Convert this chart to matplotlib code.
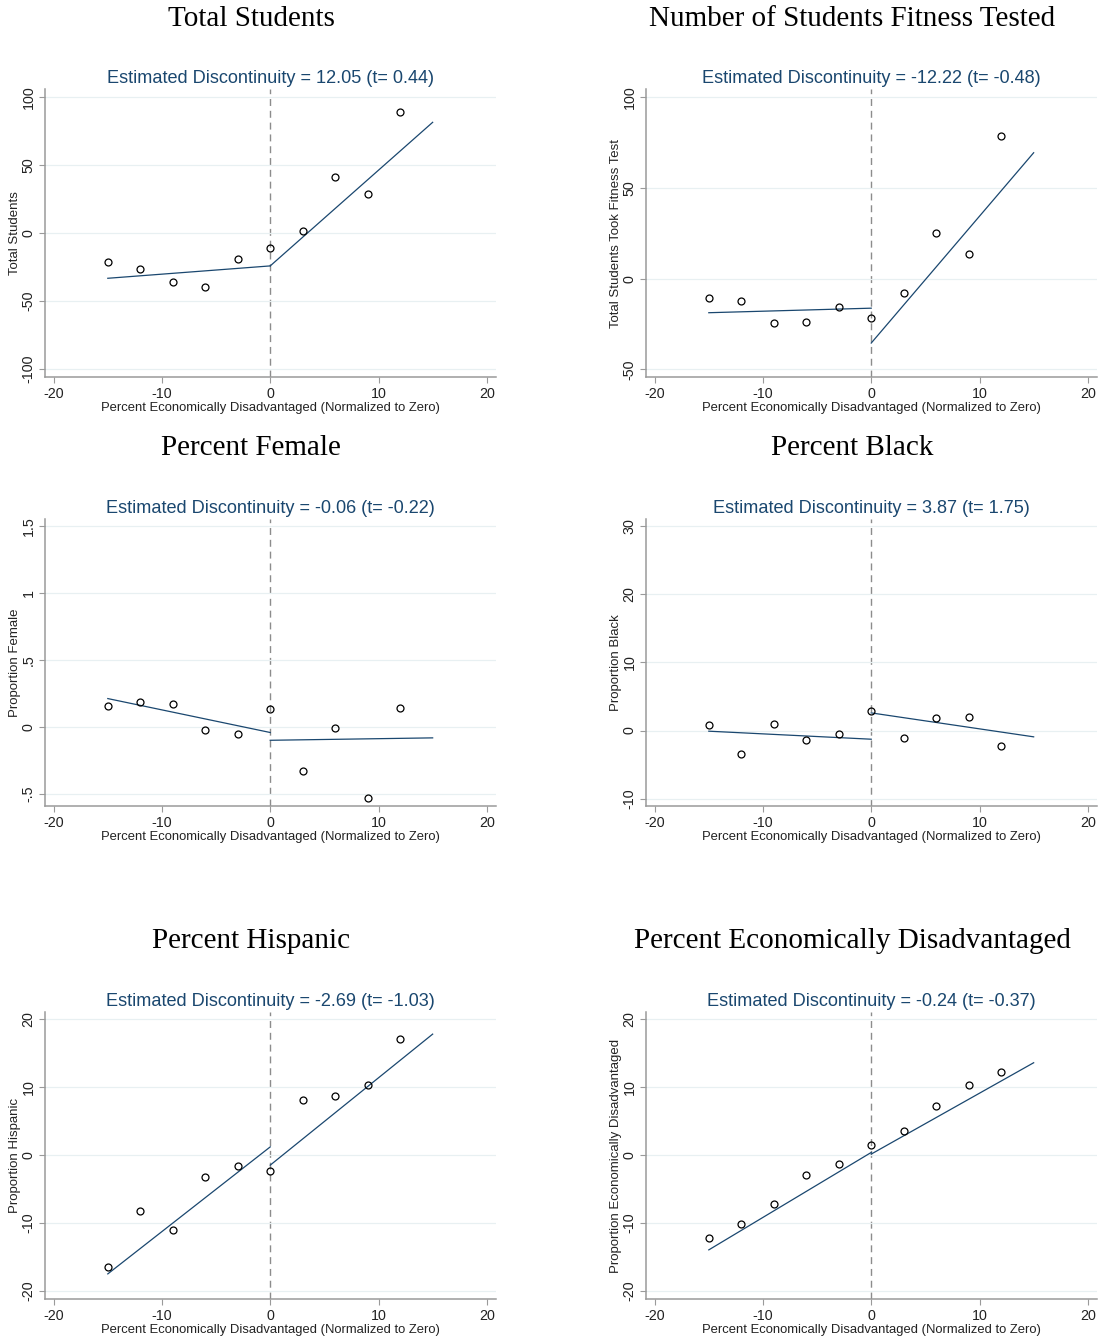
import numpy as np
import matplotlib.pyplot as plt
from matplotlib.ticker import FuncFormatter

plt.rcParams['font.family'] = ['Liberation Sans', 'DejaVu Sans']
plt.rcParams['axes.unicode_minus'] = False

# bin midpoints (percent econ. disadvantaged, centred on the cutoff)
bins = [-15, -12, -9, -6, -3, 0, 3, 6, 9, 12]
fit_lo_x = [-15, 0]
fit_hi_x = [0, 15]

total_students = [-21.1, -26.5, -36.0, -40.0, -19.4, -11.0, 1.2, 41.2, 28.7, 88.7]
total_fit_lo = [-33.3, -24.2]
total_fit_hi = [-24.2, 81.4]

fitness_tested = [-10.5, -12.1, -24.6, -24.1, -15.6, -21.5, -8.1, 25.2, 13.6, 78.3]
fitness_fit_lo = [-18.8, -16.3]
fitness_fit_hi = [-35.5, 69.3]

prop_female = [0.152, 0.184, 0.174, -0.025, -0.050, 0.132, -0.328, -0.007, -0.532, 0.139]
female_fit_lo = [0.211, -0.042]
female_fit_hi = [-0.100, -0.082]

prop_black = [0.88, -3.44, 1.03, -1.42, -0.54, 2.80, -1.03, 1.82, 2.01, -2.21]
black_fit_lo = [-0.10, -1.28]
black_fit_hi = [2.59, -0.93]

prop_hispanic = [-16.47, -8.17, -10.97, -3.26, -1.55, -2.33, 8.12, 8.66, 10.28, 17.06]
hispanic_fit_lo = [-17.50, 1.22]
hispanic_fit_hi = [-1.47, 17.84]

prop_econ = [-12.25, -10.09, -7.19, -2.92, -1.25, 1.45, 3.56, 7.24, 10.28, 12.20]
econ_fit_lo = [-13.96, 0.40]
econ_fit_hi = [0.16, 13.62]

titles = ['Total Students', 'Number of Students Fitness Tested',
          'Percent Female', 'Percent Black',
          'Percent Hispanic', 'Percent Economically Disadvantaged']
ylabels = ['Total Students', 'Total Students Took Fitness Test',
           'Proportion Female', 'Proportion Black',
           'Proportion Hispanic', 'Proportion Economically Disadvantaged']
estimates = ['12.05 (t= 0.44)', '-12.22 (t= -0.48)',
             '-0.06 (t= -0.22)', '3.87 (t= 1.75)',
             '-2.69 (t= -1.03)', '-0.24 (t= -0.37)']
yticks = [[-100, -50, 0, 50, 100], [-50, 0, 50, 100],
          [-0.5, 0, 0.5, 1, 1.5], [-10, 0, 10, 20, 30],
          [-20, -10, 0, 10, 20], [-20, -10, 0, 10, 20]]
ylims = [(-105.9, 105.9), (-54.2, 104.4), (-0.59, 1.55),
         (-11.1, 31.1), (-21.2, 21.1), (-21.2, 21.1)]

series = [total_students, fitness_tested, prop_female, prop_black, prop_hispanic, prop_econ]
fits = [(total_fit_lo, total_fit_hi), (fitness_fit_lo, fitness_fit_hi),
        (female_fit_lo, female_fit_hi), (black_fit_lo, black_fit_hi),
        (hispanic_fit_lo, hispanic_fit_hi), (econ_fit_lo, econ_fit_hi)]

W, H = 1102, 1339
navy = '#1a476f'
axis_grey = '#9a9a9a'
grid_col = '#e8f0f2'

col_left = [45, 646]
col_title_x = [251, 852]
row_top = [89, 519, 1012]
row_bot = [377, 806, 1299]
row_title_y = [19, 448, 941]
ax_w = 451


def stata_num(v, pos=None):
    s = ('%g' % v)
    if s.startswith('0.'):
        s = s[1:]
    elif s.startswith('-0.'):
        s = '-' + s[2:]
    return s


fig = plt.figure(figsize=(W / 100, H / 100), dpi=100)

for i in range(6):
    r, c = divmod(i, 2)
    left = col_left[c]
    top, bot = row_top[r], row_bot[r]
    ax = fig.add_axes([left / W, 1 - bot / H, ax_w / W, (bot - top) / H])

    ax.set_xlim(-20.8, 20.85)
    ax.set_ylim(*ylims[i])
    ax.set_xticks([-20, -10, 0, 10, 20])
    ax.set_yticks(yticks[i])
    ax.yaxis.set_major_formatter(FuncFormatter(stata_num))
    for t in ax.get_yticklabels():
        t.set_rotation(90)
        t.set_va('center')

    ax.grid(axis='y', color=grid_col, lw=0.9, zorder=0)
    for s in ['top', 'right']:
        ax.spines[s].set_visible(False)
    for s in ['left', 'bottom']:
        ax.spines[s].set_color(axis_grey)
        ax.spines[s].set_linewidth(1.1)
    ax.tick_params(direction='out', length=4.3, width=0.8, color=axis_grey,
                   labelsize=10.3, labelcolor='#222222', pad=2.5)
    ax.tick_params(axis='x', pad=3.2)

    ax.axvline(0, color='#8c8c8c', lw=1.0, ls=(0, (5, 3.5)), zorder=1)

    lo, hi = fits[i]
    ax.plot(fit_lo_x, lo, color=navy, lw=0.9, zorder=2)
    ax.plot(fit_hi_x, hi, color=navy, lw=0.9, zorder=2)
    ax.plot(bins, series[i], 'o', ms=5, mfc='none', mec='black', mew=0.9, zorder=3)

    ax.set_xlabel('Percent Economically Disadvantaged (Normalized to Zero)',
                  fontsize=9.4, color='#222222', labelpad=0.5)
    ax.set_ylabel(ylabels[i], fontsize=9.5, color='#222222')
    ax.yaxis.set_label_coords((21 - 45) / ax_w, 0.5)

    ax.set_title('Estimated Discontinuity = ' + estimates[i],
                 fontsize=13.1, color=navy, pad=4)

    fig.text(col_title_x[c] / W, 1 - row_title_y[r] / H, titles[i],
             family=['Liberation Serif', 'DejaVu Serif'], fontsize=21,
             ha='center', va='center', color='black')

fig.savefig('out.png', dpi=100, facecolor='white')
